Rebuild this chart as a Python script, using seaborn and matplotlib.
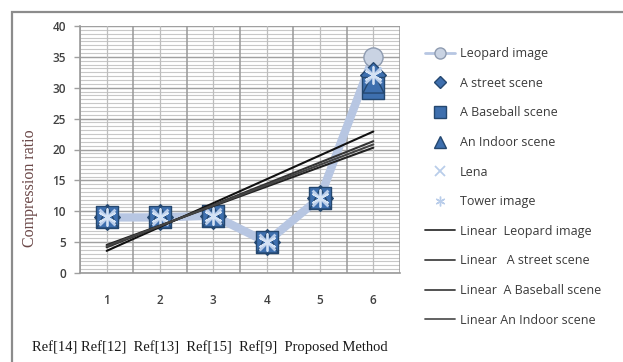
import matplotlib
matplotlib.use("Agg")
import matplotlib.pyplot as plt
from matplotlib.lines import Line2D
from matplotlib.patches import Rectangle
import numpy as np
import pandas as pd
import seaborn as sns

# Compression ratio of each test image for the six methods
methods = [1, 2, 3, 4, 5, 6]
method_names = ["Ref[14]", "Ref[12]", "Ref[13]", "Ref[15]", "Ref[9]", "Proposed Method"]
leopard = [9, 9, 9.3, 5, 12.2, 35]
street = [9, 9, 9.3, 5, 12.2, 32]
baseball = [9, 9, 9.3, 5, 12.2, 30]
indoor = [9, 9, 9.3, 5, 12.2, 31]
lena = [9, 9, 9.3, 5, 12.2, 32]
tower = [9, 9, 9.3, 5, 12.2, 32]
y_ticks = [0, 5, 10, 15, 20, 25, 30, 35, 40]

sns.set_theme(style="white")
plt.rcParams["font.family"] = ["Open Sans", "DejaVu Sans"]

fig = plt.figure(figsize=(6.23, 3.62), dpi=100)
ax = fig.add_axes([80 / 623, 1 - 273 / 362, 320 / 623, 247 / 362])

# outer chart frame
fig.patches.append(Rectangle((12 / 623, -0.05), 1.0, 1 - 12 / 362 + 0.05,
                             transform=fig.transFigure, fill=False,
                             edgecolor="#8c8c8c", lw=1.6, zorder=0))

# grid
for v in np.arange(0, 40.01, 0.625):
    ax.axhline(v, color="#c8c8c8", lw=0.8, zorder=0)
for v in y_ticks:
    ax.axhline(v, color="#a0a0a0", lw=1.0, zorder=0.5)
for v in np.arange(0.5, 6.51, 1.0):
    ax.axvline(v, color="#999999", lw=1.1, zorder=0.5)
for v in methods:
    ax.axvline(v, color="#bdbdbd", lw=0.9, zorder=0.5)

df = pd.DataFrame({"method": methods, "leopard": leopard, "street": street,
                   "baseball": baseball, "indoor": indoor, "lena": lena, "tower": tower})

line_blue = "#b7c6e2"
mark_blue = "#3e6fae"
mark_edge = "#24476f"

sns.lineplot(data=df, x="method", y="leopard", ax=ax, color=line_blue, lw=6,
             zorder=2, legend=False)
sns.scatterplot(data=df, x="method", y="leopard", ax=ax, marker="o", s=190,
                color="#c9d3e3", edgecolor="#8e9bb0", linewidth=1.0, zorder=3, legend=False)
sns.scatterplot(data=df, x="method", y="street", ax=ax, marker="D", s=170,
                color=mark_blue, edgecolor=mark_edge, linewidth=1.0, zorder=4, legend=False)
sns.scatterplot(data=df, x="method", y="baseball", ax=ax, marker="s", s=260,
                color=mark_blue, edgecolor=mark_edge, linewidth=1.0, zorder=5, legend=False)
sns.scatterplot(data=df, x="method", y="indoor", ax=ax, marker="^", s=230,
                color=mark_blue, edgecolor=mark_edge, linewidth=1.0, zorder=5.5, legend=False)
sns.scatterplot(data=df, x="method", y="lena", ax=ax, marker="x", s=130,
                color="#b9cdea", linewidth=2.0, zorder=6, legend=False)
sns.scatterplot(data=df, x="method", y="tower", ax=ax, marker=(6, 2, 0), s=150,
                color="#d4e2f4", linewidth=1.3, zorder=6.5, legend=False)

# linear trend lines for the first four images
for col, shade in [("leopard", "#111111"), ("street", "#333333"),
                   ("baseball", "#222222"), ("indoor", "#444444")]:
    sns.regplot(data=df, x="method", y=col, ax=ax, scatter=False, ci=None,
                truncate=True, line_kws={"color": shade, "lw": 1.5, "zorder": 8})

ax.set_xlim(0.5, 6.5)
ax.set_ylim(0, 40)
ax.set_yticks(y_ticks)
ax.set_xticks(methods)
ax.set_xlabel("")
ax.set_ylabel("")
ax.tick_params(axis="y", labelsize=8.5, colors="#404040", length=4, width=1, pad=6,
               left=True, color="#a0a0a0")
ax.tick_params(axis="x", labelsize=8.5, colors="#404040", length=0, pad=15)
for lab in ax.get_xticklabels() + ax.get_yticklabels():
    lab.set_color("#404040")
    lab.set_fontweight("semibold")
for s in ["top", "right"]:
    ax.spines[s].set_visible(False)
for s in ["left", "bottom"]:
    ax.spines[s].set_color("#9a9a9a")
    ax.spines[s].set_linewidth(1.2)
ax.set_facecolor("white")

fig.text(30 / 623, 1 - 188 / 362, "Compression ratio", rotation=90, ha="center",
         va="center", fontsize=11.5, color="#6b4848", family=["Liberation Serif"])
fig.text(32 / 623, 1 - 347 / 362, "Ref[14] Ref[12]  Ref[13]  Ref[15]  Ref[9]  Proposed Method",
         ha="left", va="center", fontsize=10.5, color="#1a1a1a", family=["Liberation Serif"])

handles = [
    Line2D([], [], color=line_blue, lw=2, marker="o", markersize=8,
           markerfacecolor="#c9d3e3", markeredgecolor="#8e9bb0"),
    Line2D([], [], ls="none", marker="D", markersize=6, color=mark_blue, markeredgecolor=mark_edge),
    Line2D([], [], ls="none", marker="s", markersize=8, color=mark_blue, markeredgecolor=mark_edge),
    Line2D([], [], ls="none", marker="^", markersize=9, color=mark_blue, markeredgecolor=mark_edge),
    Line2D([], [], ls="none", marker="x", markersize=7, color="#b9cdea", markeredgewidth=1.3),
    Line2D([], [], ls="none", marker=(6, 2, 0), markersize=7, color="#b9cdea", markeredgewidth=1.0),
    Line2D([], [], color="#333333", lw=1.3),
    Line2D([], [], color="#444444", lw=1.3),
    Line2D([], [], color="#444444", lw=1.3),
    Line2D([], [], color="#555555", lw=1.3),
]
labels = ["Leopard image", "A street scene", "A Baseball scene", "An Indoor scene",
          "Lena", "Tower image", "Linear  Leopard image", "Linear   A street scene",
          "Linear  A Baseball scene", "Linear An Indoor scene"]
leg = fig.legend(handles, labels, loc="upper left", bbox_to_anchor=(420 / 623, 1 - 42 / 362),
                 frameon=False, fontsize=9, labelspacing=1.33, handlelength=2.4,
                 handletextpad=0.4, borderaxespad=0)
for t in leg.get_texts():
    t.set_color("#3a3a3a")

fig.savefig("out.png", dpi=100)
